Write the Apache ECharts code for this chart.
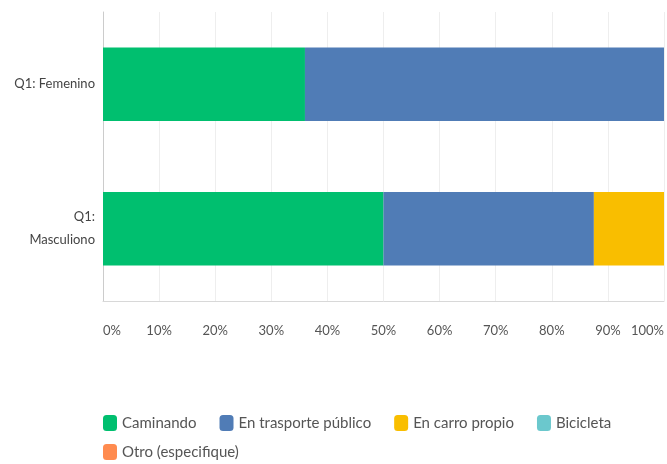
<!DOCTYPE html>
<html><head><meta charset="utf-8">
<script src="https://cdn.jsdelivr.net/npm/echarts@6/dist/echarts.min.js"></script>
<style>html,body{margin:0;padding:0;background:#fff}#c{width:667px;height:464px}</style>
</head><body><div id="c"></div>
<script>
const categories = ['Q1: Femenino', 'Q1: Masculiono'];
const seriesNames = ['Caminando', 'En trasporte público', 'En carro propio', 'Bicicleta', 'Otro (especifique)'];
const caminando = [36, 50];
const transporte = [64, 37.5];
const carro = [0, 12.5];
const bicicleta = [0, 0];
const otro = [0, 0];
const xTicks = [0, 10, 20, 30, 40, 50, 60, 70, 80, 90, 100];
const colors = ['#00BF6F', '#507CB6', '#F9BE00', '#6BC8CD', '#FF8B4F'];

const values = [caminando, transporte, carro, bicicleta, otro];
const font = 'Lato, "Open Sans", sans-serif';
const legendBase = {
  left: 98, itemWidth: 14, itemHeight: 16, itemGap: 23, icon: 'roundRect',
  textStyle: {color: '#555', fontSize: 15, fontFamily: font}
};
const chart = echarts.init(document.getElementById('c'));
chart.setOption({
  animation: false,
  textStyle: {fontFamily: font},
  grid: {left: 103, right: 1, top: 12, bottom: 163, containLabel: false},
  xAxis: {
    type: 'value', min: xTicks[0], max: xTicks[xTicks.length - 1], interval: 10,
    axisLine: {show: true, lineStyle: {color: '#d8d8d8'}},
    axisTick: {show: false},
    splitLine: {show: true, lineStyle: {color: '#eeeeee'}},
    axisLabel: {formatter: '{value}%', color: '#555', fontSize: 13, margin: 23, alignMinLabel: 'left', alignMaxLabel: 'right', fontFamily: font}
  },
  yAxis: {
    type: 'category', data: categories, inverse: true,
    axisLine: {show: true, lineStyle: {color: '#cccccc'}},
    axisTick: {show: false},
    axisLabel: {
      color: '#444', fontSize: 13, margin: 8, lineHeight: 23, align: 'right', fontFamily: font,
      formatter: v => v.length > 13 ? v.replace(': ', ':\n') : v
    }
  },
  legend: [
    Object.assign({top: 410, data: seriesNames.slice(0, 4)}, legendBase),
    Object.assign({top: 439, data: seriesNames.slice(4)}, legendBase)
  ],
  series: seriesNames.map((n, i) => ({
    name: n, type: 'bar', stack: 'total', barWidth: '51%',
    itemStyle: {color: colors[i]},
    data: values[i]
  }))
});
</script></body></html>
